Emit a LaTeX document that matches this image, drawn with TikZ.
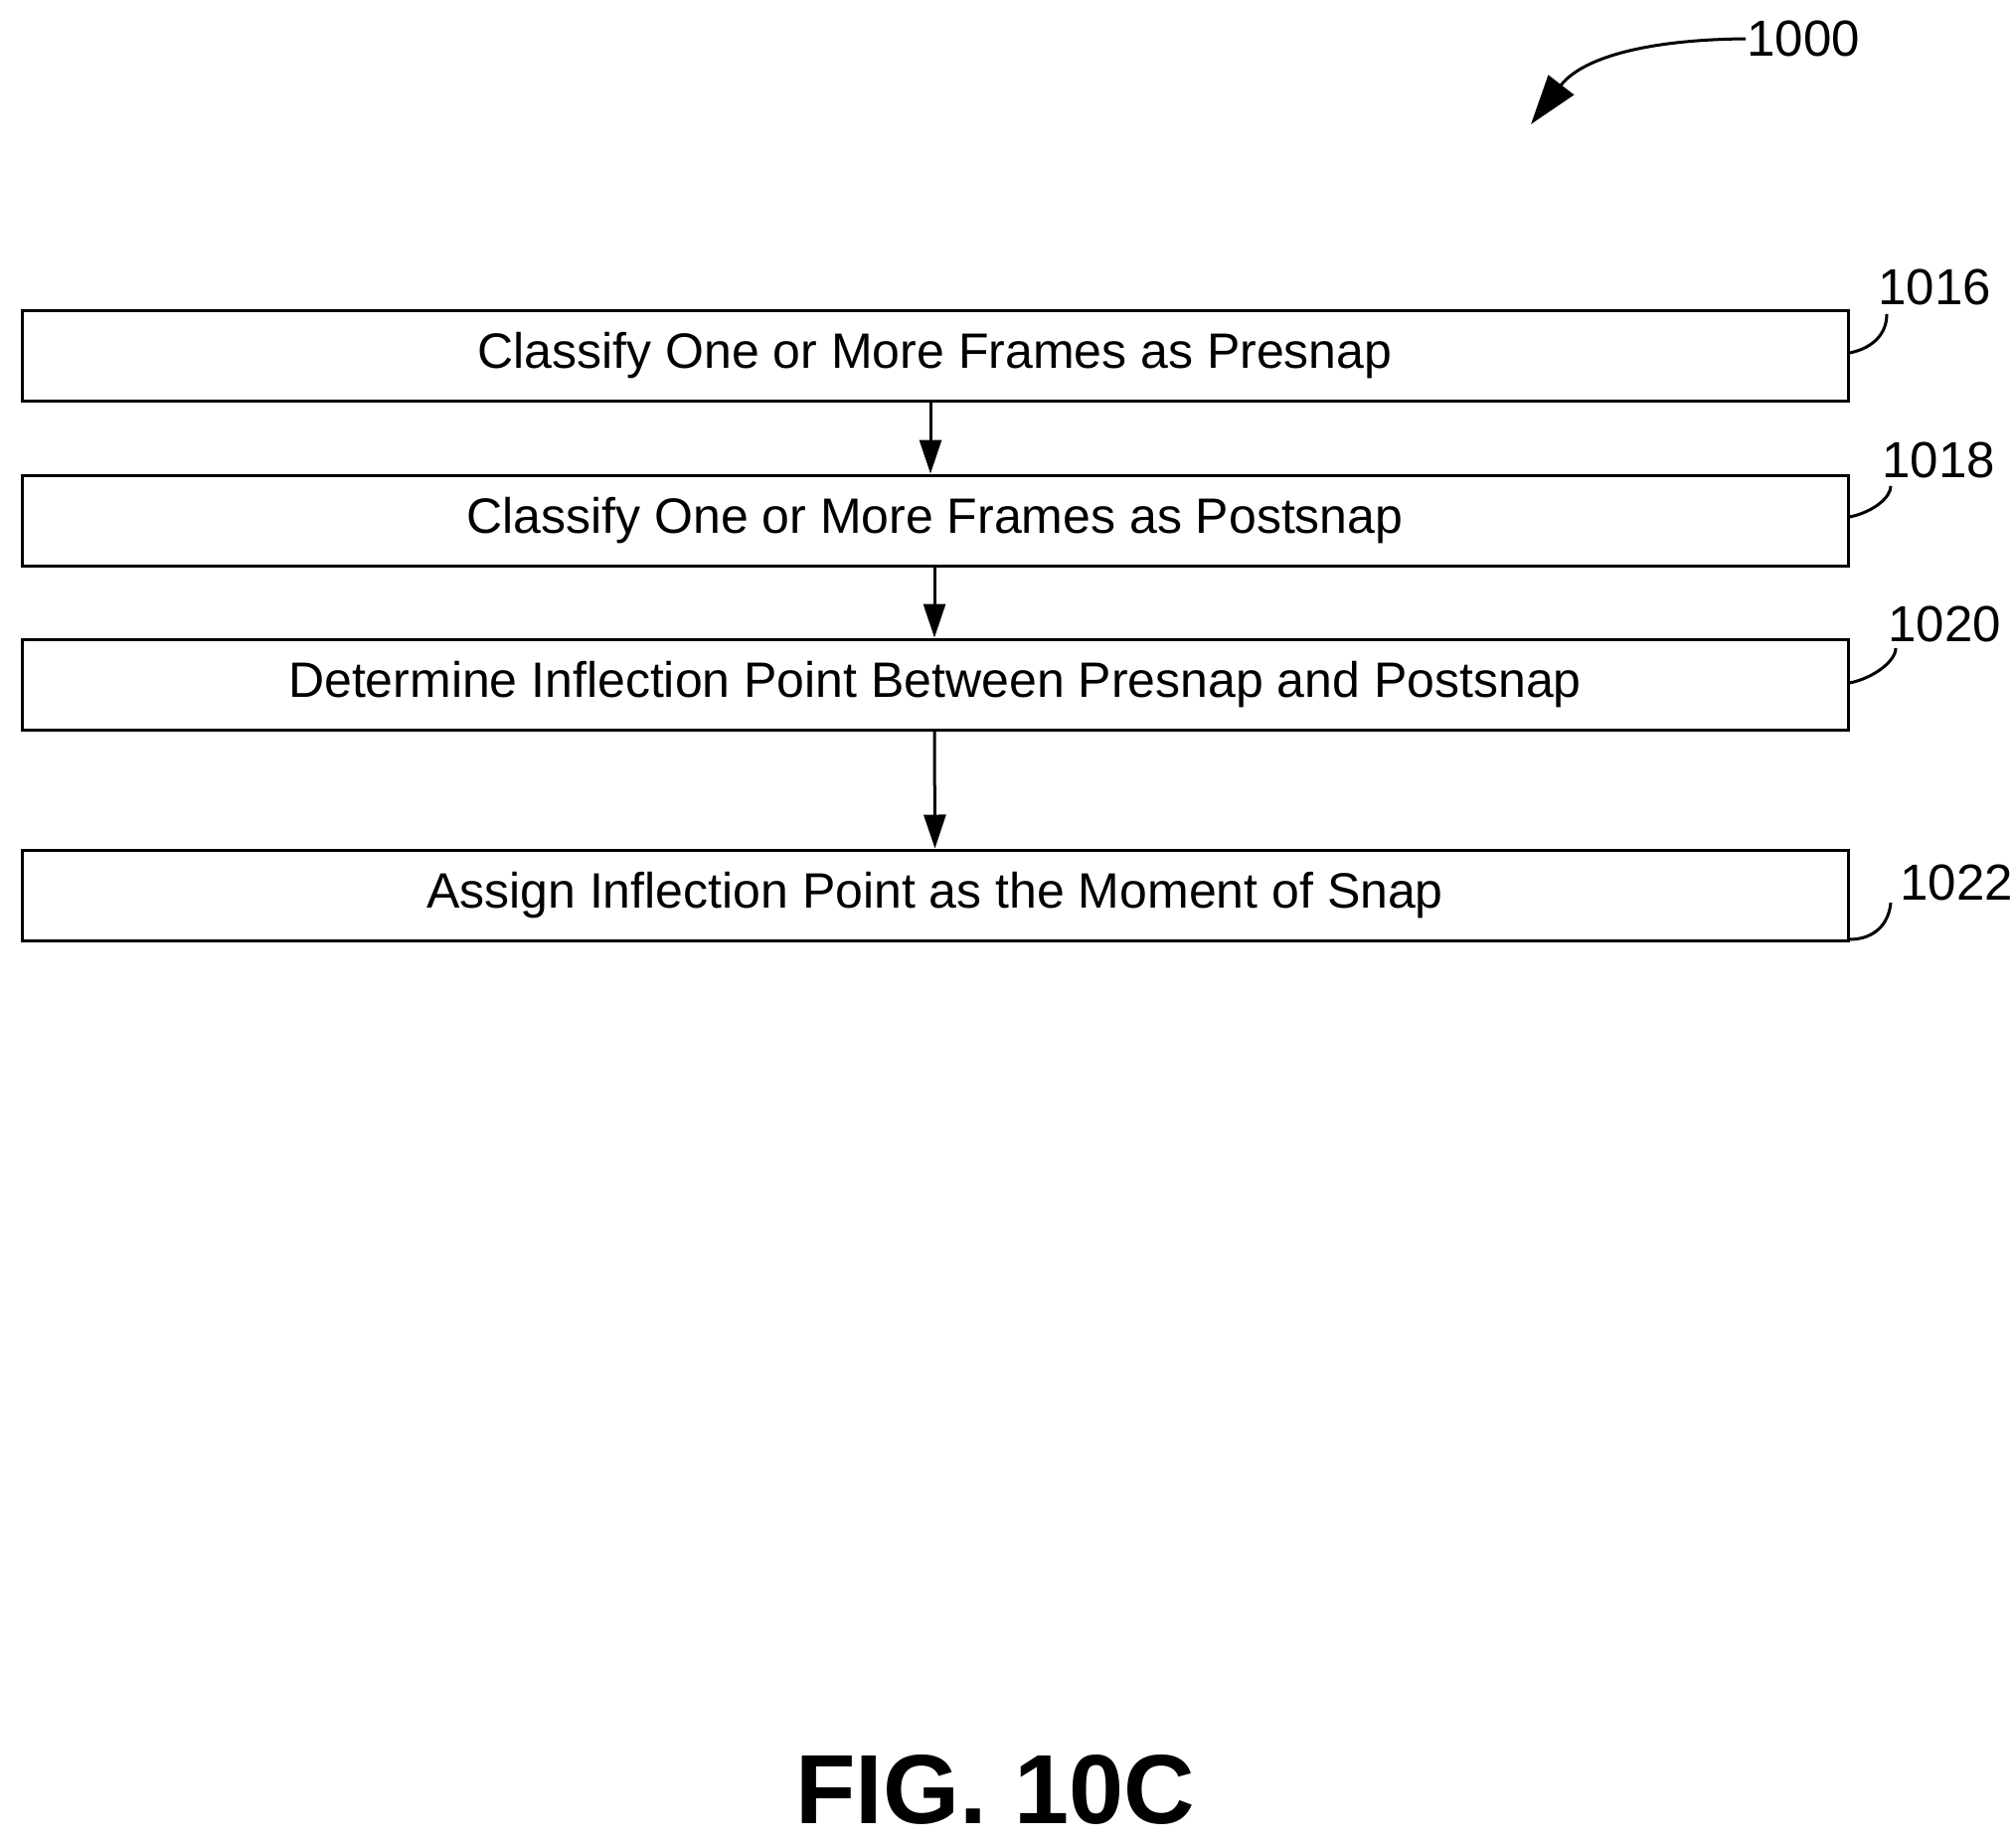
\documentclass[tikz,border=0pt]{standalone}
\usepackage{fontspec}
\setmainfont{Liberation Sans}
\usetikzlibrary{arrows.meta}
\begin{document}
\begin{tikzpicture}[x=1pt,y=-1pt,line width=3pt,
  box/.style={draw,minimum width=1837pt,minimum height=91pt,inner sep=0pt,font=\fontsize{50}{54}\selectfont},
  lbl/.style={font=\fontsize{51}{56}\selectfont,anchor=west,inner sep=0pt},
  arr/.style={-{Triangle[length=34pt,width=22pt]}}]
\useasboundingbox (0,0) rectangle (2028,1856);
\node[box] (b1) at (940.5,357.5) {Classify One or More Frames as Presnap};
\node[box] (b2) at (940.5,523.5) {Classify One or More Frames as Postsnap};
\node[box] (b3) at (940.5,688.5) {Determine Inflection Point Between Presnap and Postsnap};
\node[box] (b4) at (940.5,900.5) {Assign Inflection Point as the Moment of Snap};
\draw[arr] (936,403) -- (b2.north -| 936,0);
\draw[arr] (940,569) -- (b3.north -| 940,0);
\draw[arr] (940,734) -- (b4.north);
\node[lbl] (l1) at (1888,289) {1016};
\node[lbl] (l2) at (1892,463) {1018};
\node[lbl] (l3) at (1898,628) {1020};
\node[lbl] (l4) at (1910,888) {1022};
\draw (b1.east |- 0,355) .. controls (1885,350) and (1898,335) .. (1898,316);
\draw (b2.east |- 0,520) .. controls (1885,515) and (1902,500) .. (1902,489);
\draw (b3.east |- 0,687) .. controls (1885,682) and (1907,665) .. (1907,652);
\draw (b4.east |- 0,945) .. controls (1885,945) and (1900,930) .. (1902,908);
\node[lbl] (l0) at (1756,39) {1000};
\draw[line width=3pt,-{Triangle[length=50pt,width=32pt]}] (l0.west) .. controls (1650,40) and (1590,60) .. (1540,125);
\node[font=\bfseries\fontsize{99}{104}\selectfont] (fig) at (1001,1800) {FIG. 10C};
\end{tikzpicture}
\end{document}
